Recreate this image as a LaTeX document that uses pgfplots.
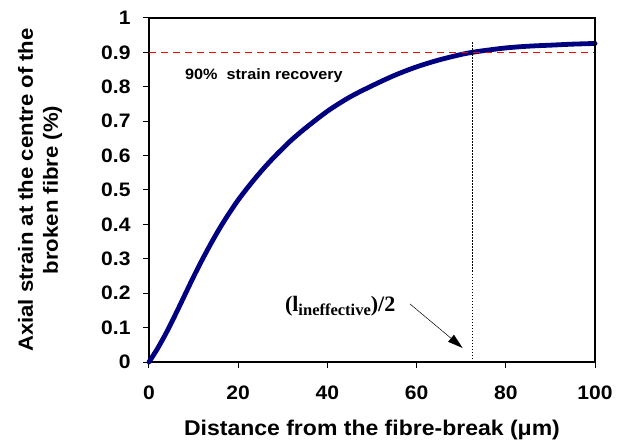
\documentclass[border=0pt]{standalone}
\usepackage{fontspec}
\setmainfont{Liberation Sans}[FakeStretch=1.08]
\newfontfamily\tnr{Liberation Serif}
\usepackage{pgfplots}
\pgfplotsset{compat=1.18}
\usetikzlibrary{arrows.meta}
\definecolor{navy}{RGB}{0,0,128}
\pgfplotstableread{
x y
0 0
2 0.041
4 0.088
6 0.140
8 0.194
10 0.248
12 0.299
14 0.347
16 0.392
18 0.433
20 0.471
22 0.505
24 0.537
26 0.567
28 0.595
30 0.621
32 0.646
35 0.679
40 0.729
45 0.770
50 0.803
55 0.833
60 0.858
65 0.878
70 0.894
72.4 0.9
75 0.905
80 0.913
85 0.918
90 0.921
95 0.924
100 0.926
}\curve
\begin{document}
\begin{tikzpicture}
\path (-149pt,-81pt) rectangle (480pt,362pt);
\begin{axis}[
  at={(0,0)}, anchor=south west,
  scale only axis, width=446pt, height=344pt,
  xmin=0, xmax=100, ymin=0, ymax=1,
  clip=false,
  axis line style={black, line width=2.5pt},
  xtick pos=bottom, ytick pos=left,
  tick align=outside,
  major tick length=6pt,
  every tick/.style={black, line width=1pt},
  xtick={0,20,40,60,80,100},
  ytick={0,0.1,0.2,0.3,0.4,0.5,0.6,0.7,0.8,0.9,1},
  yticklabels={0,0.1,0.2,0.3,0.4,0.5,0.6,0.7,0.8,0.9,1},
  /pgf/number format/assume math mode=true,
  tick label style={font=\fontsize{19.5}{23}\selectfont\bfseries},
  yticklabel style={xshift=-9pt},
  xticklabel style={yshift=-14pt},
  xlabel={Distance from the fibre-break (μm)},
  xlabel style={font=\fontsize{21.3}{25}\selectfont\bfseries, at={(axis description cs:0.5,-0.2151)}, anchor=base},
  ylabel={Axial strain at the centre of the\\broken fibre (\%)},
  ylabel style={font=\fontsize{20.5}{25}\selectfont\bfseries, align=center, at={(axis description cs:-0.2444,0.5)}, anchor=center},
]
\addplot[navy, line width=4.8pt, smooth, line cap=round, line join=round] table {\curve};
\addplot[red, line width=1.5pt, dash pattern=on 7pt off 5pt] coordinates {(0,0.9) (100,0.9)};
\addplot[black, line width=0.8pt, dash pattern=on 1.5pt off 1.5pt] coordinates {(72.4,0) (72.4,0.933)};
\draw[-{Triangle[length=15pt,width=9pt]}, line width=0.5pt] (axis cs:58.5,0.169) -- (axis cs:70.3,0.041);
\node[font=\fontsize{15}{18}\selectfont\bfseries, anchor=base west, inner sep=0pt] at (axis cs:8.06,0.820) {90\%\ \ strain recovery};
\node[font=\tnr\bfseries\fontsize{22}{26}\selectfont, anchor=base west, inner sep=0pt] at (axis cs:30.46,0.146) {(l\raisebox{-4pt}{\fontsize{16.5}{19}\selectfont ineffective})/2};
\end{axis}
\draw[black, line width=2.5pt] (0pt,344pt) -- (446pt,344pt) -- (446pt,0pt);
\end{tikzpicture}
\end{document}
